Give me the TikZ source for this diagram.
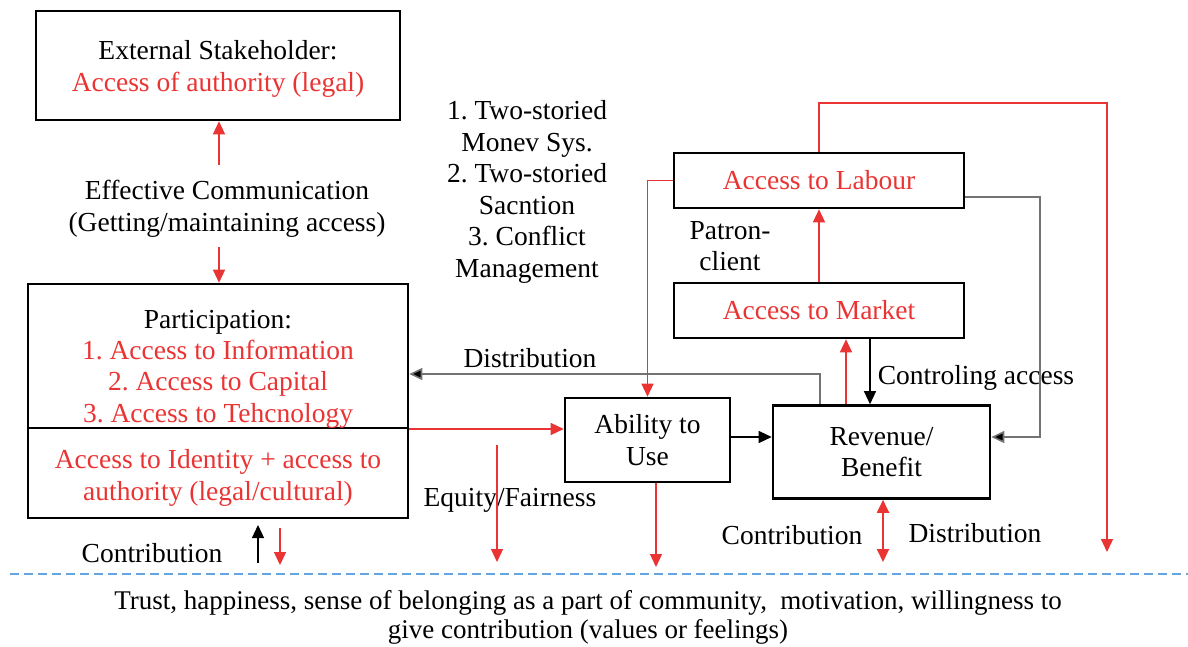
\documentclass[tikz,border=0pt]{standalone}
\usepackage{fontspec}
\setmainfont{Liberation Serif}
\usetikzlibrary{arrows.meta}
\definecolor{accred}{RGB}{234,51,51}
\definecolor{sepblue}{RGB}{100,165,225}
\frenchspacing
\begin{document}
\begin{tikzpicture}[x=1pt,y=-1pt,
  every node/.style={font=\fontsize{27.5}{31.5}\selectfont, align=center, inner sep=0pt},
  box/.style={draw, line width=2.6pt, minimum width=#1},
  redtxt/.style={text=accred},
  ra/.style={draw=accred, line width=1.3pt, -{Triangle[length=13pt,width=12pt]}},
  ba/.style={draw=black, line width=1.3pt, -{Triangle[length=13pt,width=12pt]}},
  ga/.style={draw=black!55, line width=1.6pt, -{Triangle[length=13pt,width=12pt,fill=black]}},
  rda/.style={draw=accred, line width=2pt, {Triangle[length=13pt,width=12pt]}-{Triangle[length=13pt,width=12pt]}},
]
\useasboundingbox (0,0) rectangle (1188,646);

% boxes
\node[box=364pt, minimum height=109pt] (ext) at (218,65.5) {};
\node (extA) at (218,50) {External Stakeholder:};
\node[redtxt] (extB) at (218,85) {Access of authority (legal)};

\node[box=380pt, minimum height=234pt] (part) at (218,401) {};
\draw[line width=2.6pt] (part.west |- 0,428) -- (part.east |- 0,428);
\node (partA) at (218,322) {Participation:};
\node[redtxt] (partB) at (218,384) {1. Access to Information\\2. Access to Capital\\3. Access to Tehcnology};
\node[redtxt] (partC) at (218,478) {Access to Identity + access to\\authority (legal/cultural)};

\node[box=165pt, minimum height=84pt] (abil) at (647.5,440) {Ability to\\Use};
\node[box=290pt, minimum height=55pt, redtxt] (lab) at (819,180.5) {Access to Labour};
\node[box=290pt, minimum height=55pt, redtxt] (mkt) at (819,310.5) {Access to Market};
\node[box=217pt, minimum height=93pt] (rev) at (881.5,452) {Revenue/\\Benefit};

% free labels
\node (comm) at (227,209) {Effective Communication\\(Getting/maintaining access)};
\node (tools) at (527,192) {1. Two-storied\\Monev Sys.\\2. Two-storied\\Sacntion\\3. Conflict\\Management};
\node (patron) at (730,246) {Patron-\\client};
\node (distA) at (530,358) {Distribution};
\node (ctrl) at (976,378) {Controling access};
\node (equity) at (510,500) {Equity/Fairness};
\node (contA) at (152,553) {Contribution};
\node (contB) at (792,535) {Contribution};
\node (distB) at (975,533) {Distribution};
\node[font=\fontsize{27}{29}\selectfont] (values) at (588,617) {Trust, happiness, sense of belonging as a part of community,\ \ motivation, willingness to\\give contribution (values or feelings)};

% separator
\coordinate (sepL) at (10,574);
\coordinate (sepR) at (1188,574);
\draw[sepblue, line width=1.3pt, dash pattern=on 9pt off 5pt] (sepL) -- (sepR);

% connectors
\coordinate (c1) at (219,165);
\draw[ra] (c1) -- (c1 |- ext.south);
\coordinate (c2) at (219,247);
\draw[ra] (c2) -- (c2 |- part.north);

\coordinate (dTurn) at (820,374);
\draw[ga] (dTurn |- rev.north) -- (dTurn) -- (part.east |- dTurn);

\draw[ra] (part.east |- 0,429) -- (abil.west |- 0,429);
\draw[ba] (abil.east |- 0,437) -- (rev.west |- 0,437);

\draw[ra] (lab.west) -| (abil.north);
\draw[ra] (mkt.north) -- (lab.south);

\coordinate (rTop) at (1107,103);
\coordinate (rEnd) at (1107,552);
\draw[ra] (lab.north) |- (rTop) -- (rEnd);

\coordinate (gTurn) at (1040,197);
\draw[ga] (lab.east |- gTurn) -- (gTurn) |- (rev.east |- 0,437);

\coordinate (ctrlX) at (870,0);
\draw[ba] (ctrlX |- mkt.south) -- (ctrlX |- rev.north);
\coordinate (upX) at (846,0);
\draw[ra] (upX |- rev.north) -- (upX |- mkt.south);

\coordinate (eqTop) at (497,445);
\coordinate (eqEnd) at (497,562);
\draw[ra] (eqTop) -- (eqEnd);

\coordinate (abX) at (656,567);
\draw[ra] (abX |- abil.south) -- (abX);

\coordinate (revEnd) at (883,562);
\draw[rda] (revEnd |- rev.south) -- (revEnd);

\coordinate (cUpS) at (258,563);
\draw[ba] (cUpS) -- (cUpS |- 0,525);
\coordinate (cDnS) at (280,528);
\draw[ra] (cDnS) -- (cDnS |- 0,565);
\end{tikzpicture}
\end{document}
